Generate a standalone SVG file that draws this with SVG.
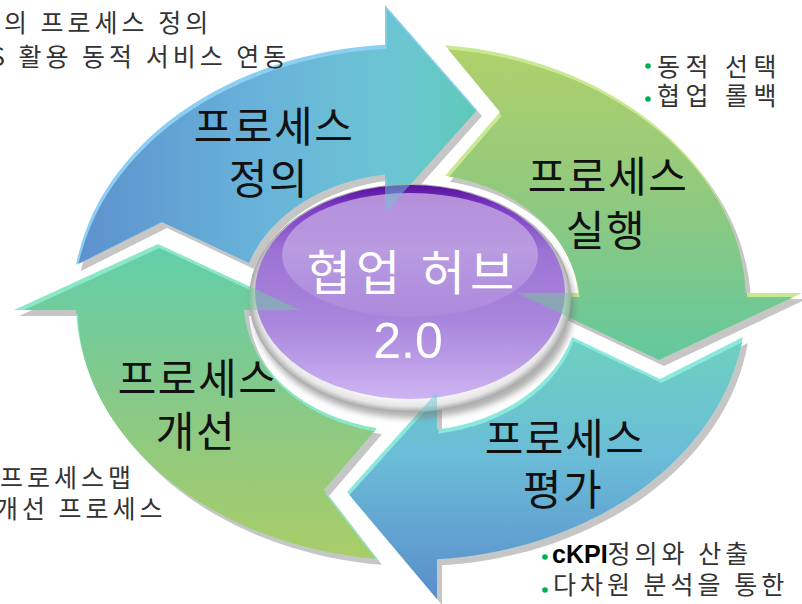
<svg xmlns="http://www.w3.org/2000/svg" width="802" height="604" viewBox="0 0 802 604">
<defs>
<style>
.lbl{font-family:"Noto Sans CJK KR","Noto Sans",sans-serif;font-size:42px;fill:#111;text-anchor:middle;letter-spacing:1.5px}
.note{font-family:"Noto Sans CJK KR","Noto Sans",sans-serif;font-size:25px;fill:#333;letter-spacing:4px}
.tr{letter-spacing:5.5px}
.hub{font-family:"Noto Sans CJK KR","Noto Sans",sans-serif;font-size:48px;fill:#fff;text-anchor:middle;letter-spacing:5px}
.num{font-family:"Liberation Sans",Arial,sans-serif;font-size:50px;fill:#fff;text-anchor:middle}
.kpi{font-family:"Liberation Sans",Arial,sans-serif;font-size:25px;font-weight:bold;fill:#000;letter-spacing:0}
.dot{fill:#00b050}
.shadow{fill:#c6c6c6}
</style>
<path id="a1" d="M 76,265 A 335 258 0 0 1 385,44.8 L 385,5 L 477,110 L 385,213 L 385,174.6 A 167.5 129 0 0 0 249,263 L 162,222 Z"/>
<path id="a2" d="M 445,45.3 A 335 258 0 0 1 745.8,293 L 802,293 L 659,360 L 517,293 L 578.1,293 A 167.5 129 0 0 0 445,175.7 L 500,112 Z"/>
<path id="a3" d="M 742.9,337 A 335 258 0 0 1 437,559.2 L 437,599 L 347,492 L 437,392 L 437,429.4 A 167.5 129 0 0 0 572.2,337 L 660,379 Z"/>
<path id="a4" d="M 377,558.7 A 335 258 0 0 1 76.2,310 L 14,310 L 158,244 L 300,310 L 243.9,310 A 167.5 129 0 0 0 377,428.3 L 324,490 Z"/>
<linearGradient id="g1" gradientUnits="userSpaceOnUse" x1="70" y1="0" x2="480" y2="0">
<stop offset="0" stop-color="#5c90cd"/><stop offset="0.45" stop-color="#68b2da"/><stop offset="0.8" stop-color="#6cc6d2"/><stop offset="1" stop-color="#5ccab5"/>
</linearGradient>
<linearGradient id="g2" gradientUnits="userSpaceOnUse" x1="0" y1="45" x2="0" y2="360">
<stop offset="0" stop-color="#b0d06a"/><stop offset="0.5" stop-color="#8ec980"/><stop offset="1" stop-color="#62c89e"/>
</linearGradient>
<linearGradient id="g3" gradientUnits="userSpaceOnUse" x1="0" y1="337" x2="0" y2="600">
<stop offset="0" stop-color="#6dd0c0"/><stop offset="0.45" stop-color="#6abcd8"/><stop offset="1" stop-color="#5a8bca"/>
</linearGradient>
<linearGradient id="g4" gradientUnits="userSpaceOnUse" x1="0" y1="244" x2="0" y2="560">
<stop offset="0" stop-color="#62cfa9"/><stop offset="0.45" stop-color="#85c98a"/><stop offset="1" stop-color="#abcd66"/>
</linearGradient>
<clipPath id="c1"><use href="#a1"/></clipPath>
<clipPath id="c2"><use href="#a2"/></clipPath>
<clipPath id="c3"><use href="#a3"/></clipPath>
<clipPath id="c4"><use href="#a4"/></clipPath>
<clipPath id="cc"><ellipse cx="410" cy="298" rx="161" ry="114"/></clipPath>
<radialGradient id="rim" cx="0.5" cy="0.5" r="0.5">
<stop offset="0.85" stop-color="#ffffff"/><stop offset="0.95" stop-color="#e6e6e6"/><stop offset="1" stop-color="#a8a8a8"/>
</radialGradient>
<linearGradient id="purple" x1="0" y1="0" x2="0" y2="1">
<stop offset="0" stop-color="#58109e"/><stop offset="0.1" stop-color="#7a3ac2"/><stop offset="0.3" stop-color="#9c72d4"/><stop offset="0.65" stop-color="#a987dc"/><stop offset="1" stop-color="#cdb4f2"/>
</linearGradient>
<linearGradient id="gloss" x1="0" y1="0" x2="0" y2="1">
<stop offset="0" stop-color="#ffffff" stop-opacity="0.5"/><stop offset="1" stop-color="#ffffff" stop-opacity="0.05"/>
</linearGradient>
<filter id="blur" x="-10%" y="-10%" width="120%" height="120%"><feGaussianBlur stdDeviation="3"/></filter>
</defs>

<g id="shadows" transform="translate(5,6)">
<use href="#a1" class="shadow"/><use href="#a2" class="shadow"/><use href="#a3" class="shadow"/><use href="#a4" class="shadow"/>
</g>

<g id="node-define">
<use href="#a1" fill="#8ccff2"/>
<g clip-path="url(#c1)"><use href="#a1" fill="url(#g1)" transform="translate(1.5,4)"/></g>
<text class="lbl" x="274" y="142">프로세스</text>
<text class="lbl" x="269" y="194">정의</text>
</g>

<g id="node-execute">
<use href="#a2" fill="#c9e892"/>
<g clip-path="url(#c2)"><use href="#a2" fill="url(#g2)" transform="translate(1.5,4)"/></g>
<text class="lbl" x="608" y="192">프로세스</text>
<text class="lbl" x="606" y="246">실행</text>
</g>

<g id="node-evaluate">
<use href="#a3" fill="#8ae8dc"/>
<g clip-path="url(#c3)"><use href="#a3" fill="url(#g3)" transform="translate(1.5,4)"/></g>
<text class="lbl" x="565" y="454">프로세스</text>
<text class="lbl" x="563" y="505">평가</text>
</g>

<g id="node-improve">
<use href="#a4" fill="#8ae8c6"/>
<g clip-path="url(#c4)"><use href="#a4" fill="url(#g4)" transform="translate(1.5,4)"/></g>
<text class="lbl" x="198" y="394">프로세스</text>
<text class="lbl" x="196" y="447">개선</text>
</g>

<g id="node-hub">
<ellipse cx="413" cy="305" rx="161" ry="113" fill="#7a7a7a" opacity="0.6" filter="url(#blur)"/>
<ellipse cx="410" cy="298" rx="161" ry="114" fill="url(#rim)"/>
<ellipse cx="410" cy="292" rx="155" ry="107" fill="url(#purple)"/>
<ellipse cx="410" cy="255" rx="128" ry="62" fill="url(#gloss)"/>
<g clip-path="url(#cc)" opacity="0.5">
<use href="#a1" fill="url(#g1)"/><use href="#a2" fill="url(#g2)"/><use href="#a3" fill="url(#g3)"/><use href="#a4" fill="url(#g4)"/>
</g>
<text class="hub" x="413" y="290">협업 허브</text>
<text class="num" x="408" y="358">2.0</text>
</g>

<g id="notes">
<text class="note" x="4" y="32">의 프로세스 정의</text>
<text class="note" x="-10" y="66">S 활용 동적 서비스 연동</text>
<circle class="dot" cx="648" cy="66" r="2.8"/>
<text class="note tr" x="657" y="76">동적 선택</text>
<circle class="dot" cx="648" cy="99" r="2.8"/>
<text class="note tr" x="657" y="105">협업 롤백</text>
<text class="note" x="0" y="487">프로세스맵</text>
<text class="note" x="-5" y="518">개선 프로세스</text>
<circle class="dot" cx="545" cy="557" r="2.8"/>
<text x="552" y="563"><tspan class="kpi">cKPI</tspan><tspan class="note">정의와 산출</tspan></text>
<circle class="dot" cx="545" cy="590" r="2.8"/>
<text class="note" x="553" y="594">다차원 분석을 통한</text>
</g>
</svg>
